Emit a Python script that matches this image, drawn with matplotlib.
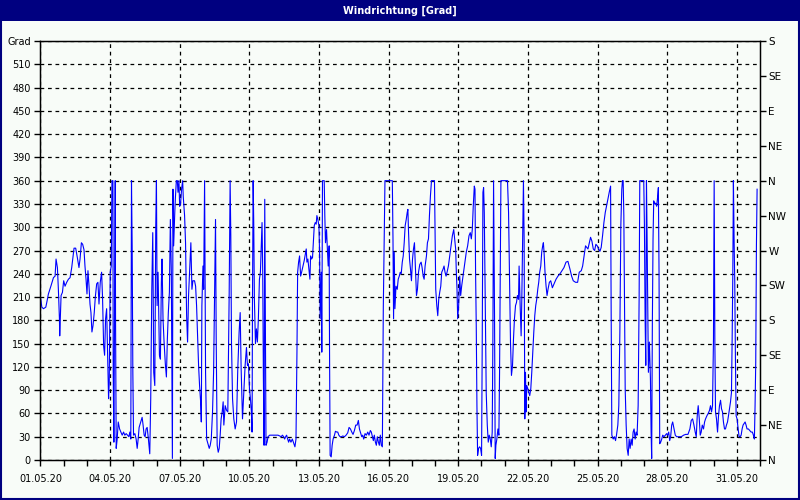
import pandas as pd
import matplotlib
matplotlib.use('Agg')
import matplotlib.pyplot as plt
import matplotlib.dates as mdates
from matplotlib.patches import Rectangle

# Wind direction, May 2020 (hours since 01.05.20 00:00, degrees)
hours = [
    0.0, 1.4, 3.1, 5.5, 6.5, 8.2, 11.0, 13.4, 15.1, 16.1, 17.5, 18.5, 19.6, 19.9, 20.6, 21.3, 22.7,
    24.0, 25.4, 27.1, 28.9, 30.6, 32.3, 33.7, 34.7, 36.4, 38.1, 39.8, 40.9, 42.3, 43.6, 45.0, 46.0,
    47.1, 48.1, 49.1, 50.2, 51.2, 52.2, 53.2, 54.3, 55.6, 56.7, 58.1, 59.4, 60.5, 61.8, 63.2, 64.2,
    65.3, 66.3, 67.3, 68.4, 69.4, 70.4, 71.1, 72.1, 73.2, 73.9, 74.9, 75.2, 75.9, 76.6, 77.3, 77.6,
    78.3, 79.3, 80.4, 81.8, 83.1, 84.5, 85.9, 87.2, 88.6, 90.0, 91.4, 92.4, 93.4, 94.1, 94.8, 95.5,
    96.2, 97.6, 98.9, 100.0, 101.0, 102.0, 103.7, 105.1, 106.1, 107.2, 108.2, 109.2, 110.3, 111.6,
    113.0, 114.0, 115.1, 116.1, 117.1, 118.2, 119.2, 119.9, 120.6, 121.6, 123.0, 124.0, 125.0, 125.7,
    126.7, 127.8, 129.1, 130.2, 131.2, 132.2, 133.3, 134.3, 135.3, 136.4, 137.0, 137.7, 138.8, 139.5,
    140.5, 141.5, 142.2, 143.2, 143.9, 144.9, 145.9, 147.0, 147.6, 149.0, 150.0, 151.1, 152.1, 153.1,
    154.5, 155.5, 156.6, 157.6, 159.3, 160.4, 161.4, 162.5, 163.5, 164.5, 165.6, 166.3, 166.9, 168.0,
    168.7, 169.7, 170.7, 171.8, 173.1, 174.5, 175.5, 176.6, 177.9, 179.0, 180.0, 181.0, 181.7, 182.7,
    183.8, 184.8, 185.8, 186.8, 187.9, 188.9,
    189.6, 191.0, 192.4, 193.7, 195.1, 196.1, 196.8, 197.5, 198.6, 199.9, 201.3, 202.7, 204.0, 205.4,
    206.5, 207.5, 208.9, 210.2, 211.6, 213.0, 214.0, 215.0, 216.1, 217.1, 218.1, 218.8, 219.2, 219.9,
    220.5, 221.2, 222.3, 223.3, 224.3, 225.3, 226.4, 227.4, 228.4, 229.1, 229.8, 230.5, 231.2, 231.9,
    232.6, 233.2, 234.3, 235.3, 237.0, 238.7, 240.5, 242.2, 243.9, 245.6, 247.3, 249.0, 250.1, 251.5,
    252.5, 253.5, 254.5, 255.6, 256.6, 257.6, 259.0, 260.4, 261.8, 263.1, 264.2, 265.2, 265.9, 266.9,
    267.9, 269.0, 270.0, 271.4, 272.7, 273.8, 274.8, 275.5, 276.5, 277.6, 278.6, 279.3, 280.3, 281.3,
    282.4, 283.1, 284.1, 285.1, 285.8, 286.8, 287.9, 288.6, 289.2, 290.3, 290.9, 291.6, 292.3, 293.4,
    294.0, 294.7, 295.8, 296.5, 297.5, 298.5, 298.9, 299.5, 300.6, 301.6, 302.6, 304.0, 305.0, 306.4,
    307.4, 308.5, 309.8, 311.2, 312.6, 314.3, 316.0, 317.7, 319.1, 320.5, 321.9, 323.2, 324.6, 326.0,
    327.4, 328.7, 329.8, 330.8, 332.2, 333.2, 334.2, 335.6, 337.0, 338.4, 339.7, 341.1, 342.1, 343.2,
    344.2, 345.2, 346.3, 347.3, 348.3, 349.4, 350.4, 351.4, 352.4, 353.5, 354.5, 355.5, 356.2, 357.3,
    359.0, 360.7, 362.7, 363.8, 364.5, 365.1, 365.8, 366.5, 367.6, 368.9, 369.9, 371.0, 372.0, 373.0,
    374.1, 375.1, 376.1,
    377.1, 378.2, 379.2, 379.9, 380.6, 381.6, 382.6, 383.6, 384.7, 385.7, 386.7, 387.8, 388.8, 389.8,
    390.9, 392.2, 393.6, 394.6, 395.7, 396.7, 397.7, 399.1, 400.1, 401.2, 402.2, 403.2, 404.3, 406.0,
    407.4, 408.0, 408.7, 409.8, 410.8, 411.8, 412.8, 413.9, 414.9, 416.3, 417.3, 418.3, 419.4, 420.4,
    421.8, 423.2, 424.5, 425.9, 427.3, 428.3, 429.3, 430.0, 430.7, 431.4, 432.4, 433.5, 434.5, 435.5,
    436.5, 437.6, 439.0, 440.3, 441.7, 443.1, 444.4, 445.5, 446.5, 447.5, 448.6, 449.3, 449.9, 450.6,
    451.3, 452.0, 453.0, 454.1, 455.1, 456.1, 456.8, 457.5, 458.2, 458.9, 459.9, 460.9, 462.0, 463.0,
    464.0, 465.1, 466.1, 467.1, 467.8, 468.5, 469.5, 470.2, 470.9, 471.9, 473.0, 474.0, 474.7, 475.4,
    476.1, 477.8, 479.5, 481.2, 482.9, 484.0, 485.0, 486.0, 487.0, 488.1, 489.1, 490.1, 491.2, 492.2,
    493.2, 494.3, 494.9, 496.0, 497.0, 497.7, 498.7, 499.4, 500.1, 500.8, 501.5, 502.2, 502.8, 503.9,
    504.9, 505.9, 507.0, 508.0, 509.0, 510.1, 511.1, 512.1, 513.1, 514.2, 515.2, 516.2, 517.3, 518.3,
    519.3, 520.0, 520.7, 521.7, 522.8, 523.8, 524.8, 526.2, 527.6, 529.3, 531.0, 533.1, 535.1, 537.2,
    539.3, 541.3, 543.4, 545.4, 547.5, 549.2, 550.9, 553.3, 555.4, 557.1, 559.2, 560.6, 561.9, 563.6,
    566.1, 567.5, 568.8, 570.2, 571.6, 573.0, 574.3, 575.7, 577.1, 578.5, 579.8, 581.2, 582.6, 584.0,
    585.3, 586.7, 588.1, 589.5, 590.1, 590.8, 592.2, 593.6, 594.6, 595.6, 597.0, 598.0, 599.1, 600.1,
    601.1, 601.8, 602.5, 603.2, 603.9, 604.6, 605.6, 606.6, 607.7, 608.7, 609.7, 610.8, 611.8, 612.8,
    613.8, 614.9, 615.9, 616.9, 618.0, 619.0, 619.7, 621.1, 622.4, 623.8, 624.5, 625.2, 625.9, 626.6,
    627.2, 627.9, 628.6, 629.6, 630.7, 631.4, 632.0, 632.7, 633.4, 634.1, 635.1, 636.2, 637.2, 638.2,
    638.9, 639.6, 640.3, 641.3, 642.4, 643.4, 644.8, 646.1, 647.5, 648.5, 649.6, 650.6, 651.6, 652.7,
    653.7, 655.1, 656.4, 657.8, 660.2, 662.6, 665.0, 667.1, 669.5, 671.5, 672.9, 674.3, 675.7, 677.0,
    678.1, 679.1, 680.1, 681.2, 682.2, 683.2, 684.3, 685.6, 686.7, 687.7, 689.1, 690.4, 691.8, 692.8,
    693.9, 694.9, 695.9, 696.6, 697.3, 698.0, 699.0, 700.1, 701.1, 702.1, 703.2, 704.2, 705.2, 706.2,
    707.3, 708.3, 709.3, 710.4, 711.4, 712.4, 713.5, 714.5, 715.2, 715.9, 716.5, 717.2, 717.9, 718.6,
    719.3, 720.3, 721.4, 722.4, 723.4, 724.5, 725.5, 726.5, 727.5, 728.6, 729.6, 730.6, 732.0, 733.4,
    734.8, 736.1, 737.2, 738.2, 738.9, 739.6, 740.3, 741.0,
]
grad = [
    210, 197, 195, 197, 203, 214, 225, 235, 237, 259, 248, 220, 182, 160, 186, 212, 216,
    231, 224, 229, 233, 235, 248, 263, 273, 273, 261, 248, 259, 280, 278, 271, 250,
    233, 214, 244, 224, 201, 190, 165, 173, 190, 210, 227, 229, 201, 229, 242, 208,
    147, 135, 182, 195, 137, 79, 100, 242, 250, 360, 360, 113, 23, 190, 360, 186,
    15, 27, 49, 40, 36, 32, 36, 32, 34, 32, 30, 36, 27, 360, 276, 113,
    32, 34, 27, 15, 27, 42, 49, 55, 45, 32, 30, 40, 42, 27,
    8, 79, 220, 293, 113, 96, 302, 360, 199, 242, 135, 130, 229, 259,
    182, 152, 124, 107, 156, 190, 216, 310, 242, 2, 349, 276, 317, 338,
    360, 360, 345, 360, 327, 331, 349, 360, 340, 315, 280, 186, 152, 212,
    250, 280, 220, 231, 231, 224, 199, 156, 121, 96, 75, 49, 199, 250,
    220, 360, 113, 27, 21, 15, 19, 27, 62, 113, 212, 310, 156, 19,
    10, 15, 32, 53, 62, 75,
    45, 70, 64, 62, 212, 360, 289, 152, 79, 53, 40, 49, 117, 165,
    190, 117, 53, 87, 122, 145, 122, 124, 92, 79, 62, 36, 199, 360,
    306, 207, 150, 169, 152, 182, 233, 242, 280, 306, 242, 105, 19, 336,
    177, 19, 23, 30, 32, 32, 32, 32, 32, 32, 31, 30, 32, 30,
    27, 30, 32, 27, 23, 27, 23, 27, 22, 17, 27, 139, 242, 255,
    263, 237, 242, 250, 257, 265, 272, 255, 259, 246, 233, 263, 259, 261,
    285, 302, 306, 304, 315, 310, 302, 268, 182, 242, 139, 360, 360, 360,
    315, 280, 297, 276, 250, 276, 139, 6, 4, 19, 27, 32, 37, 36,
    36, 32, 30, 30, 31, 30, 32, 35, 42, 40, 36, 33, 38, 45,
    45, 51, 40, 36, 30, 32, 27, 34, 32, 36, 32, 38, 36, 30,
    25, 32, 23, 19, 30, 23, 19, 32, 19, 17, 197, 293, 360, 360,
    360, 360, 360, 360, 285, 182, 268, 195, 224, 220, 233, 237, 242, 240,
    255, 263, 280,
    302, 310, 319, 323, 293, 259, 246, 231, 259, 272, 280, 246, 212, 220,
    242, 252, 255, 248, 237, 233, 250, 263, 280, 285, 315, 340, 360, 360,
    360, 293, 220, 199, 186, 207, 216, 224, 242, 246, 250, 242, 237, 242,
    250, 263, 276, 289, 297, 285, 272, 242, 220, 182, 199, 237, 212, 224,
    233, 242, 255, 268, 276, 289, 293, 285, 297, 327, 353, 349, 242, 173,
    70, 6, 15, 17, 15, 6, 156, 345, 351, 319, 199, 87, 45, 23,
    32, 27, 17, 36, 156, 360, 186, 2, 19, 27, 40, 32, 113, 242,
    360, 360, 360, 360, 360, 319, 233, 152, 109, 122, 156, 182, 199, 203,
    212, 207, 250, 199, 160, 207, 302, 360, 285, 53, 113, 62, 96, 92,
    87, 83, 92, 113, 139, 165, 186, 199, 207, 220, 229, 242, 250, 268,
    276, 280, 268, 242, 224, 212, 220, 229, 231, 222, 227, 233, 237, 240,
    244, 248, 255, 256, 246, 237, 231, 229, 229, 242, 244, 250, 261, 276,
    272, 280, 287, 282, 272, 270, 278, 276, 272, 269, 274, 289, 306, 319,
    327, 336, 345, 353, 190, 32, 27, 30, 25, 32, 45, 70, 165, 302,
    349, 360, 360, 315, 199, 92, 45, 15, 6, 27, 15, 27, 19, 36,
    40, 27, 36, 32, 70, 207, 360, 360, 360, 360, 302, 182, 122, 360,
    293, 199, 113, 152, 105, 36, 2, 177, 285, 334, 330, 331, 327, 340,
    351, 242, 21, 23, 27, 32, 30, 32, 34, 32, 36, 25, 30, 45,
    49, 40, 32, 30, 30, 30, 32, 33, 33, 40, 51, 53, 45, 36,
    30, 57, 70, 53, 32, 36, 45, 40, 49, 53, 57, 60, 64, 70,
    62, 70, 156, 360, 156, 62, 53, 36, 57, 70, 77, 66, 62, 49,
    40, 40, 45, 49, 57, 66, 75, 87, 156, 242, 360, 285, 229, 130,
    57, 53, 40, 30, 30, 32, 40, 45, 47, 49, 45, 40, 40, 38,
    36, 36, 32, 27, 70, 126, 276, 349,
]

grad_ticks = list(range(0, 541, 30))
grad_labels = [str(v) for v in range(0, 511, 30)] + ['Grad']
dir_ticks = list(range(0, 541, 45))
dir_labels = ['N', 'NE', 'E', 'SE', 'S', 'SW', 'W', 'NW', 'N', 'NE', 'E', 'SE', 'S']
date_ticks = pd.date_range('2020-05-01', '2020-05-31', freq='3D')

start = pd.Timestamp('2020-05-01')
end = pd.Timestamp('2020-06-01')
times = start + pd.to_timedelta(hours, unit='h')

bg = '#F8FCF8'
navy = '#000080'

fig = plt.figure(figsize=(8, 5), dpi=100, facecolor=bg)
ax = fig.add_axes([0.0506, 0.08, 0.8994, 0.838])
ax.set_facecolor(bg)

ax.plot(times, grad, color='#0000FF', linewidth=0.8)

ax.set_xlim(start, end)
ax.set_ylim(0, 540)

ax.set_xticks(date_ticks)
ax.xaxis.set_minor_locator(mdates.DayLocator())
ax.xaxis.set_major_formatter(mdates.DateFormatter('%d.%m.%y'))

ax.set_yticks(grad_ticks)
ax.set_yticklabels(grad_labels)

ax.grid(True, which='major', color='black', linestyle=(0, (3, 3)), linewidth=0.9)
ax.tick_params(axis='both', which='major', length=4, width=1, labelsize=7, pad=3, colors='black')
ax.tick_params(axis='x', which='minor', length=4, width=1)
ax.tick_params(axis='x', pad=6)

for s in ax.spines.values():
    s.set_color('black')
    s.set_linewidth(1)

ax2 = ax.twinx()
ax2.set_ylim(0, 540)
ax2.set_yticks(dir_ticks)
ax2.set_yticklabels(dir_labels)
ax2.tick_params(axis='y', length=4, width=1, labelsize=7.5, pad=2)

# title bar and window frame
fig.patches.append(Rectangle((0, 0.958), 1, 0.042, transform=fig.transFigure,
                             facecolor=navy, edgecolor='none', zorder=0))
fig.patches.append(Rectangle((0.001, 0.002), 0.998, 0.997, transform=fig.transFigure,
                             facecolor='none', edgecolor=navy, linewidth=1.5, zorder=5))
fig.text(0.5, 0.979, 'Windrichtung [Grad]', color='white', fontsize=7, fontweight='bold',
         ha='center', va='center')

fig.savefig('out.png', dpi=100, facecolor=bg)
